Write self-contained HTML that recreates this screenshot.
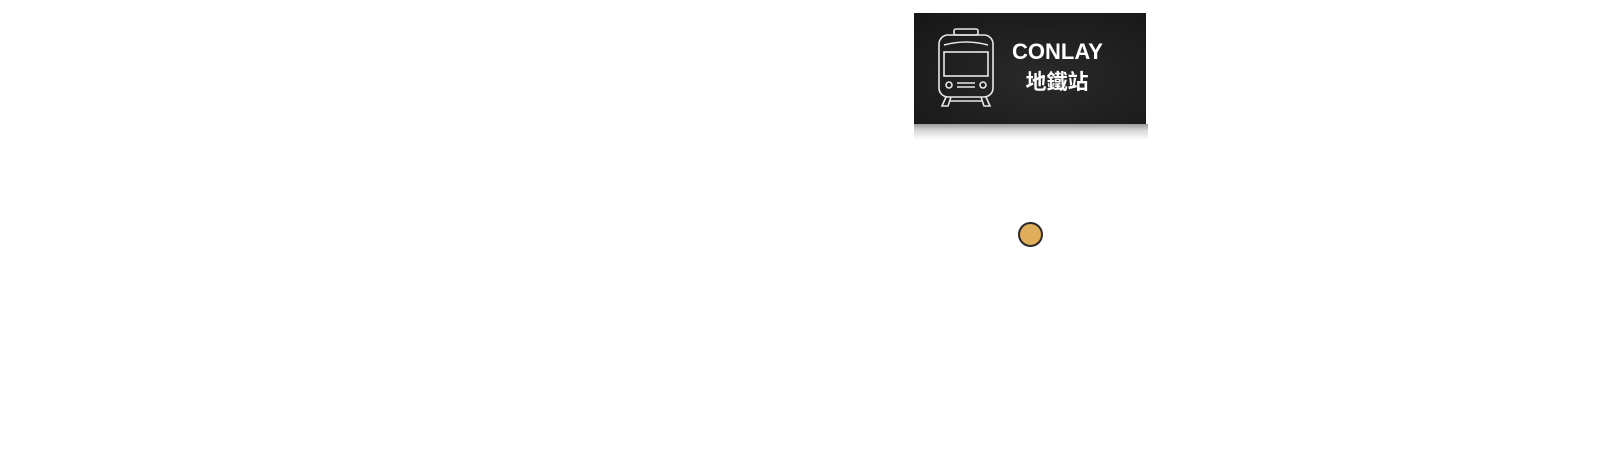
<!DOCTYPE html>
<html><head><meta charset="utf-8"><style>
html,body{margin:0;padding:0;background:#fff;width:1600px;height:452px;overflow:hidden;position:relative}
.box{position:absolute;left:914px;top:13px;width:232px;height:111px;background:radial-gradient(ellipse at 55% 60%,#2a2a2a 0%,#1c1c1c 70%,#161616 100%)}
.sh{position:absolute;left:914px;top:124px;width:234px;height:16px;background:linear-gradient(#9a9a9a,#d8d8d8 40%,#fff)}
.t{position:absolute;left:1012px;width:90px;text-align:center;color:#fff;font-family:"Liberation Sans","Noto Sans CJK TC",sans-serif;font-weight:bold}
.dot{position:absolute;left:1018px;top:222px;width:21px;height:21px;border-radius:50%;background:#e0ad5a;border:2px solid #2a2a2a}
</style></head><body>
<div class="sh"></div>
<div class="box"></div>
<svg style="position:absolute;left:936px;top:27px" width="60" height="82" viewBox="0 0 60 82" fill="none" stroke="#e8e8e8" stroke-width="1.6">
<rect x="18" y="2" width="24" height="6" rx="2"/>
<rect x="3" y="8" width="54" height="62" rx="9"/>
<path d="M8 18 Q30 12 52 18"/>
<rect x="8" y="25" width="44" height="24"/>
<circle cx="13" cy="58" r="3"/><circle cx="47" cy="58" r="3"/>
<line x1="21" y1="56" x2="39" y2="56"/><line x1="21" y1="60" x2="39" y2="60"/>
<path d="M10 70 L6 79 H12 L15 70"/><path d="M50 70 L54 79 H48 L45 70"/>
<line x1="13" y1="74" x2="47" y2="74"/>
</svg>
<div class="t" style="top:39px;font-size:22px">CONLAY</div>
<div class="t" style="top:66px;font-size:21px">地鐵站</div>
<div class="dot"></div>
</body></html>
